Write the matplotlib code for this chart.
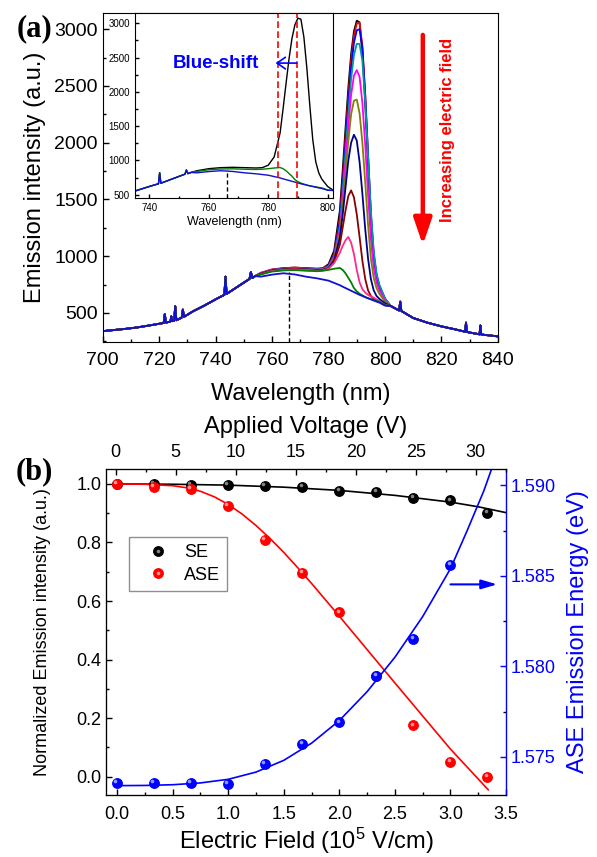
import matplotlib
matplotlib.use("Agg")
import matplotlib.pyplot as plt
from matplotlib.patches import ArrowStyle
from matplotlib.ticker import MultipleLocator, FormatStrFormatter
from matplotlib.transforms import ScaledTranslation

plt.rcParams['font.family'] = ['Liberation Sans', 'DejaVu Sans']
plt.rcParams['mathtext.fontset'] = 'custom'
plt.rcParams['mathtext.rm'] = 'Liberation Sans'
plt.rcParams['mathtext.it'] = 'Liberation Sans:italic'

# ---- (a) emission spectra ----
# shared SE band (short and long wavelength sides, with lamp lines)
wl_lo = [700, 704, 708, 712, 716, 720, 721.6, 722, 722.4, 724, 724.3, 724.6,
         725.3, 725.7, 726.1, 728, 728.4, 728.8, 732, 736, 740, 743.1, 743.5,
         743.9, 748, 752, 752.5, 753, 754]
se_lo = [340, 350, 360, 372, 388, 405, 412, 490, 415, 425, 470, 428,
         432, 560, 436, 460, 530, 466, 515, 565, 620, 660, 820,
         668, 735, 800, 860, 808, 825]
wl_hi = [802, 805, 805.4, 805.8, 810, 815, 820, 825, 828.4, 828.7, 829, 830,
         833.5, 833.8, 834.1, 835, 840]
se_hi = [562, 522, 600, 518, 456, 415, 382, 355, 335, 415, 333, 328,
         312, 390, 311, 308, 294]

# ASE window, one spectrum per applied field step
wl_win = [756, 760, 764, 768, 772, 776, 778, 780, 782, 784, 785, 786, 787, 788,
          789, 790, 791, 792, 793, 794, 795, 796, 797, 798, 800]
spectra = [
    ('#000000', [850, 880, 895, 900, 895, 890, 895, 930, 1050, 1400, 1750, 2120, 2480, 2780,
                 2980, 3075, 3060, 2800, 2350, 1800, 1300, 980, 820, 730, 620]),
    ('#ff0000', [855, 885, 895, 900, 895, 890, 893, 920, 1020, 1330, 1660, 2030, 2400, 2720,
                 2940, 3050, 3055, 2850, 2420, 1880, 1360, 1010, 830, 735, 625]),
    ('#0000ff', [850, 880, 890, 895, 890, 885, 890, 915, 1010, 1300, 1620, 1980, 2340, 2660,
                 2880, 2990, 3000, 2830, 2420, 1900, 1380, 1020, 835, 740, 625]),
    ('#009a9a', [850, 880, 890, 895, 890, 885, 888, 910, 1000, 1260, 1560, 1900, 2250, 2560,
                 2770, 2870, 2870, 2720, 2360, 1880, 1400, 1050, 850, 750, 630]),
    ('#ff00ff', [850, 878, 888, 893, 888, 882, 885, 905, 990, 1230, 1500, 1820, 2140, 2420,
                 2590, 2640, 2580, 2350, 1980, 1540, 1150, 900, 770, 700, 610]),
    ('#808000', [845, 875, 885, 890, 885, 880, 882, 900, 980, 1200, 1440, 1720, 2010, 2250,
                 2370, 2380, 2260, 2000, 1650, 1280, 980, 810, 720, 670, 600]),
    ('#00008b', [845, 875, 885, 890, 885, 878, 880, 895, 965, 1160, 1360, 1600, 1840, 2000,
                 2070, 2020, 1830, 1550, 1240, 980, 800, 700, 650, 625, 585]),
    ('#8b0000', [845, 872, 882, 888, 882, 875, 878, 892, 950, 1100, 1250, 1400, 1530, 1580,
                 1520, 1370, 1170, 960, 800, 700, 650, 625, 610, 600, 570]),
    ('#ff2a8a', [840, 870, 880, 885, 880, 872, 875, 890, 940, 1030, 1090, 1140, 1170, 1120,
                 1020, 880, 770, 710, 680, 660, 645, 635, 620, 605, 570]),
    ('#008000', [840, 865, 875, 878, 872, 868, 872, 880, 890, 897, 880, 850, 810, 770,
                 720, 690, 670, 655, 640, 630, 622, 615, 607, 600, 570]),
    ('#1010d0', [820, 838, 850, 840, 820, 805, 795, 785, 765, 745, 732, 720, 708, 696,
                 684, 672, 660, 650, 640, 630, 620, 610, 600, 592, 565]),
]
inset_idx = [0, 9, 10]
se_center = 766
ase_peaks = [783.3, 789.6]

# ---- (b) field dependence ----
field = [0, 1/3, 2/3, 1, 4/3, 5/3, 2, 7/3, 8/3, 3, 10/3]
se_norm = [1.0, 1.0, 0.998, 0.997, 0.992, 0.989, 0.975, 0.972, 0.951, 0.944, 0.902]
ase_norm = [1.0, 0.991, 0.982, 0.925, 0.809, 0.695, 0.561, 0.345, 0.175, 0.049, 0.0]
field_e = [0, 1/3, 2/3, 1, 4/3, 5/3, 2, 7/3, 8/3, 3]
ase_energy = [1.57353, 1.57353, 1.57353, 1.57349, 1.57458, 1.57570, 1.57690,
              1.57948, 1.58151, 1.58560]
# fitted curves
se_fit_x = [0, 0.5, 1.0, 1.5, 2.0, 2.5, 3.0, 3.25, 3.5]
se_fit_y = [1.0, 0.999, 0.996, 0.989, 0.978, 0.961, 0.938, 0.922, 0.902]
ase_fit_x = [0, 0.25, 0.5, 0.625, 0.75, 0.875, 1.0, 1.125, 1.25, 1.375, 1.5, 1.625,
             1.75, 2.0, 2.5, 3.0, 3.34]
ase_fit_y = [1.0, 0.999, 0.994, 0.987, 0.975, 0.956, 0.930, 0.897, 0.858, 0.814, 0.766,
             0.714, 0.660, 0.548, 0.320, 0.094, -0.045]
en_fit_x = [0, 0.25, 0.5, 0.75, 1.0, 1.25, 1.5, 1.75, 2.0, 2.25, 2.5, 2.75, 3.0,
            3.15, 3.3, 3.37]
en_fit_y = [1.57340, 1.57341, 1.57345, 1.57355, 1.57375, 1.57415, 1.57480, 1.57575,
            1.57700, 1.57860, 1.58050, 1.58275, 1.58540, 1.58750, 1.58970, 1.59091]

fig = plt.figure(figsize=(5.97, 8.57), dpi=100)


def style_ticks(ax, size):
    ax.tick_params(which='both', direction='in', width=1, labelsize=size)
    ax.tick_params(which='major', length=4.5)
    ax.tick_params(which='minor', length=2.5)


# main spectra panel
ax = fig.add_axes([0.172, 0.601, 0.662, 0.384])
for color, win in spectra:
    ax.plot(wl_lo + wl_win + wl_hi, se_lo + win + se_hi, color=color, lw=1.3)
ax.set_xlim(700, 840)
ax.set_ylim(245, 3144)
ax.axvline(se_center, ymax=(860 - 245) / (3144 - 245), color='k', ls=(0, (3, 2)), lw=1)
ax.xaxis.set_major_locator(MultipleLocator(20))
ax.xaxis.set_minor_locator(MultipleLocator(10))
ax.yaxis.set_major_locator(MultipleLocator(500))
ax.yaxis.set_minor_locator(MultipleLocator(250))
ax.set_yticks([500, 1000, 1500, 2000, 2500, 3000])
style_ticks(ax, 14)
ax.tick_params(axis='x', pad=7)
ax.set_xlabel('Wavelength (nm)', fontsize=17, labelpad=10)
ax.set_ylabel('Emission intensity (a.u.)', fontsize=17, labelpad=6)
ax.annotate('', xy=(813.4, 1100), xytext=(813.4, 2950),
            arrowprops=dict(arrowstyle=ArrowStyle('-|>', head_length=1.6, head_width=0.55),
                            color='red', lw=3.2, mutation_scale=10, shrinkA=0, shrinkB=0))
ax.text(822, 2113, 'Increasing electric field', rotation=90, color='red',
        fontsize=12, fontweight='bold', ha='center', va='center')

# inset zoom of the ASE region
axi = fig.add_axes([0.2261, 0.769, 0.3317, 0.2158])
axi.set_facecolor('white')
for i in inset_idx:
    color, win = spectra[i]
    axi.plot(wl_lo + wl_win + wl_hi, se_lo + win + se_hi, color=color, lw=1)
axi.set_xlim(735.2, 801.8)
axi.set_ylim(453, 3150)
for wl in ase_peaks:
    axi.axvline(wl, color='red', ls=(0, (4, 2)), lw=1.2)
axi.axvline(se_center, ymax=(860 - 453) / (3150 - 453), color='k', ls=(0, (3, 2)), lw=1)
axi.xaxis.set_major_locator(MultipleLocator(20))
axi.xaxis.set_minor_locator(MultipleLocator(10))
axi.yaxis.set_major_locator(MultipleLocator(500))
axi.yaxis.set_minor_locator(MultipleLocator(250))
style_ticks(axi, 7)
axi.tick_params(which='major', length=3)
axi.tick_params(which='minor', length=1.8)
axi.set_xlabel('Wavelength (nm)', fontsize=9, labelpad=2)
axi.text(762.5, 2420, 'Blue-shift', color='blue', fontsize=13.5, fontweight='bold',
         ha='center', va='center')
axi.annotate('', xy=(782.5, 2420), xytext=(789.6, 2420),
             arrowprops=dict(arrowstyle=ArrowStyle('->', head_length=0.5, head_width=0.35),
                             color='blue', lw=1.2, mutation_scale=12, shrinkA=0, shrinkB=0))

fig.text(0.058, 0.967, '(a)', fontfamily='Liberation Serif', fontweight='bold',
         fontsize=22, ha='center', va='center')

# ---- (b) ----
axb = fig.add_axes([0.1776, 0.0723, 0.670, 0.3804])
axe = axb.twinx()
axv = axb.twiny()


def glossy(axis, x, y, color, light, z):
    base, = axis.plot(x, y, 'o', ms=6.8, color=color, mec=color, zorder=z)
    shift = axis.transData + ScaledTranslation(-1.3 / 72, 1.3 / 72, fig.dpi_scale_trans)
    shine, = axis.plot(x, y, 'o', ms=2.6, color=light, mec='none', alpha=0.85,
                       transform=shift, zorder=z + 0.1)
    return base, shine


axb.plot(se_fit_x, se_fit_y, color='k', lw=1.2, zorder=2)
axb.plot(ase_fit_x, ase_fit_y, color='red', lw=1.2, zorder=2)
se_h = glossy(axb, field, se_norm, 'black', '#9a9a9a', 3)
ase_h = glossy(axb, field, ase_norm, '#ff0000', '#ffb0b0', 4)
axe.plot(en_fit_x, en_fit_y, color='blue', lw=1.2, zorder=2)
glossy(axe, field_e, ase_energy, '#0000ff', '#a8b8ff', 3)

axb.set_xlim(-0.1, 3.5)
axb.set_ylim(-0.063, 1.051)
axe.set_ylim(1.57288, 1.59091)
axv.set_xlim(-0.81, 32.53)

axb.xaxis.set_major_locator(MultipleLocator(0.5))
axb.xaxis.set_minor_locator(MultipleLocator(0.25))
axb.yaxis.set_major_locator(MultipleLocator(0.2))
axb.yaxis.set_minor_locator(MultipleLocator(0.1))
axb.xaxis.set_major_formatter(FormatStrFormatter('%.1f'))
axb.yaxis.set_major_formatter(FormatStrFormatter('%.1f'))
axe.yaxis.set_major_locator(MultipleLocator(0.005))
axe.yaxis.set_minor_locator(MultipleLocator(0.0025))
axe.yaxis.set_major_formatter(FormatStrFormatter('%.3f'))
axv.xaxis.set_major_locator(MultipleLocator(5))
axv.xaxis.set_minor_locator(MultipleLocator(2.5))

style_ticks(axb, 13)
style_ticks(axe, 13)
style_ticks(axv, 13)
axb.tick_params(axis='x', pad=8)
axv.tick_params(axis='x', pad=6)
axb.spines['right'].set_visible(False)
axv.spines['right'].set_visible(False)
axe.spines['right'].set_color('blue')
axe.spines['right'].set_linewidth(1)
axe.tick_params(axis='y', colors='blue')

axb.set_xlabel('Electric Field (10$^5$ V/cm)', fontsize=17, labelpad=2)
axb.set_ylabel('Normalized Emission intensity (a.u.)', fontsize=13, labelpad=18)
axe.set_ylabel('ASE Emission Energy (eV)', fontsize=17, color='blue', labelpad=8)
axv.set_xlabel('Applied Voltage (V)', fontsize=17, labelpad=8)

axe.annotate('', xy=(3.42, 1.58453), xytext=(3.0, 1.58453),
             arrowprops=dict(arrowstyle=ArrowStyle('-|>', head_length=0.95, head_width=0.28),
                             color='blue', lw=1.5, mutation_scale=10, shrinkA=0, shrinkB=0))

axb.legend([se_h, ase_h], ['SE', 'ASE'], loc='upper left', bbox_to_anchor=(0.0575, 0.791),
           borderaxespad=0, fontsize=13, fancybox=False, edgecolor='0.45',
           handlelength=2.4, handletextpad=0.25, borderpad=0.4, labelspacing=0.3)

fig.text(0.058, 0.449, '(b)', fontfamily='Liberation Serif', fontweight='bold',
         fontsize=22, ha='center', va='center')

fig.savefig('out.png', dpi=100)
